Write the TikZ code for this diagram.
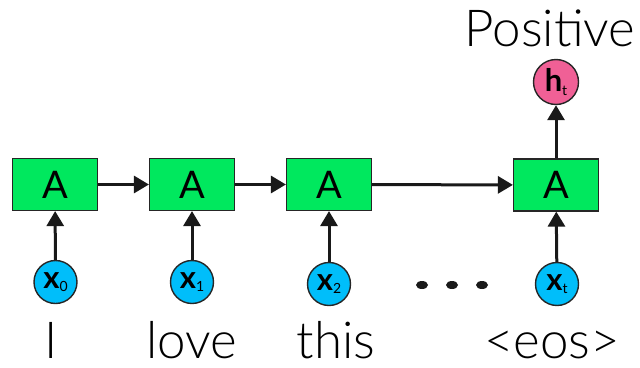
\documentclass[tikz,border=0pt]{standalone}
\usepackage{fontspec}
\setmainfont{Lato}
\newfontfamily\thinfont{Lato Light}
\usetikzlibrary{arrows.meta,shapes.geometric}
\definecolor{cellgreen}{RGB}{0,232,94}
\definecolor{inblue}{RGB}{0,190,250}
\definecolor{outpink}{RGB}{240,96,150}
\newcommand{\stepsub}[1]{\raisebox{-0.12em}{\fontsize{14}{14}\selectfont\mdseries #1}}
\tikzset{
  cell/.style={draw=black!85, line width=1.2pt, fill=cellgreen, minimum width=85pt, minimum height=52pt, inner sep=0pt, font=\fontsize{38}{38}\selectfont},
  inp/.style={circle, draw=black!85, line width=1.4pt, fill=inblue, minimum size=43pt, inner sep=0pt, font=\fontsize{31}{31}\selectfont\bfseries},
  outp/.style={circle, draw=black!85, line width=1.4pt, fill=outpink, minimum size=45pt, inner sep=0pt, font=\fontsize{31}{31}\selectfont\bfseries},
  conn/.style={line width=3pt, black!90, -{Triangle[length=15pt,width=17pt]}},
  word/.style={font=\thinfont\fontsize{51}{51}\selectfont, anchor=base, inner sep=0pt, text depth=0pt},
  dot/.style={ellipse, fill=black!90, minimum width=12pt, minimum height=8pt, inner sep=0pt}
}
\begin{document}
\begin{tikzpicture}[x=1pt,y=-1pt]
\useasboundingbox (0,0) rectangle (640,367);
% recurrent cells
\node[cell] (a0) at (55,184.5) {A};
\node[cell] (a1) at (192,184.5) {A};
\node[cell] (a2) at (329,184.5) {A};
\node[cell] (a3) at (556,185) {A};
% inputs
\node[inp] (x0) at (55.5,282) {x\stepsub{0}};
\node[inp] (x1) at (192,282) {x\stepsub{1}};
\node[inp] (x2) at (329,284) {x\stepsub{2}};
\node[inp] (xt) at (557,284) {x\stepsub{t}};
% output
\node[outp] (ht) at (556,82) {h\stepsub{t}};
% ellipsis between the last two steps
\node[dot] (d1) at (422,285) {};
\node[dot] (d2) at (452,285) {};
\node[dot] (d3) at (482,285) {};
% connectors
\draw[conn] (a0) -- (a1);
\draw[conn] (a1) -- (a2);
\draw[conn] (a2) -- (a3);
\draw[conn] (x0) -- (a0);
\draw[conn] (x1) -- (a1);
\draw[conn] (x2) -- (a2);
\draw[conn] (xt) -- (a3);
\draw[conn] (a3) -- (ht);
% words
\node[word] (w0) at (51,358) {I};
\node[word] (w1) at (192,358) {love};
\node[word] (w2) at (336,358) {this};
\node[word] (w3) at (552,358) {<eos>};
\node[word] (pos) at (550,46) {Positive};
\end{tikzpicture}
\end{document}
